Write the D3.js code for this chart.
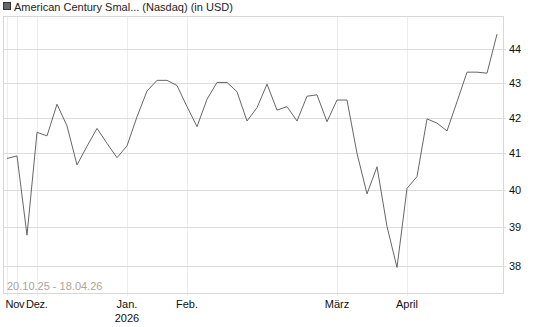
<!DOCTYPE html>
<html>
<head>
<meta charset="utf-8">
<script src="https://cdn.jsdelivr.net/npm/d3@7"></script>
<style>
  body { margin: 0; background: #fff; }
  svg { display: block; font-family: "Liberation Sans", Arial, sans-serif; }
</style>
</head>
<body>
<div class="chart"></div>
<script>
// values, one point per trading sample
var prices = [
  40.86, 40.93, 38.79, 41.59, 41.49, 42.39, 41.77, 40.68, 41.20, 41.70,
  41.28, 40.88, 41.21, 42.03, 42.77, 43.08, 43.08, 42.93, 42.32, 41.75,
  42.53, 43.02, 43.02, 42.75, 41.91, 42.29, 42.97, 42.22, 42.32, 41.91,
  42.62, 42.66, 41.89, 42.51, 42.51, 41.00, 39.89, 40.63, 39.02, 37.95,
  40.04, 40.36, 41.97, 41.85, 41.63, 42.46, 43.32, 43.32, 43.29, 44.45
];
// first sample of each month
var monthIndex = [1, 3, 12, 18, 33, 40];
var monthLabels = ["Nov", "Dez.", "Jan.", "Feb.", "März", "April"];
var yearLabels = ["", "", "2026", "", "", ""];
var yTicks = [38, 39, 40, 41, 42, 43, 44];
var title = "American Century Smal... (Nasdaq) (in USD)";
var rangeText = "20.10.25 - 18.04.26";

var W = 545, H = 327;
var margin = { top: 16, right: 42, bottom: 34, left: 3 };
var width = W - margin.left - margin.right;
var height = H - margin.top - margin.bottom;

var svg = d3.select(".chart").append("svg")
  .attr("width", W)
  .attr("height", H);

// legend
svg.append("rect")
  .attr("x", 3.5).attr("y", 2.5)
  .attr("width", 7).attr("height", 7)
  .style("fill", "#666")
  .style("stroke", "#333");
svg.append("text")
  .attr("x", 14).attr("y", 10.5)
  .text(title)
  .style("font-size", "11px")
  .style("fill", "#222");

var g = svg.append("g")
  .attr("transform", "translate(" + margin.left + "," + margin.top + ")");

var x = d3.scaleLinear().domain([-0.4, prices.length - 1 + 0.6]).range([0, width]);
var y = d3.scaleLog().domain([37.3, 45]).range([height, 0]);

// vertical grid at month starts
g.append("g")
  .selectAll("line")
  .data(monthIndex)
  .enter()
  .append("line")
  .attr("x1", function (d) { return Math.round(x(d)) + 0.5; })
  .attr("x2", function (d) { return Math.round(x(d)) + 0.5; })
  .attr("y1", 0)
  .attr("y2", height + 3)
  .style("stroke", "#ececec");

// first vertical line at the start of the series
g.append("line")
  .attr("x1", Math.round(x(0)) + 0.5).attr("x2", Math.round(x(0)) + 0.5)
  .attr("y1", 0).attr("y2", height + 3)
  .style("stroke", "#ececec");

// horizontal grid + right axis
var yAxis = d3.axisRight(y)
  .tickValues(yTicks)
  .tickFormat(d3.format("d"))
  .tickSize(-width - 3)
  .tickPadding(4);
g.append("g")
  .attr("transform", "translate(" + (width + 3) + ",0)")
  .call(yAxis)
  .call(function (s) {
    s.select(".domain").remove();
    s.selectAll(".tick line").style("stroke", "#dcdcdc");
    s.selectAll(".tick line").attr("y1", 0.5).attr("y2", 0.5);
    s.selectAll(".tick").attr("transform", function (d) {
      return "translate(0," + Math.round(y(d)) + ")";
    });
    s.selectAll(".tick text")
      .attr("x", 3)
      .style("font-size", "11px")
      .style("font-family", "'Liberation Sans', Arial, sans-serif")
      .style("fill", "#111");
  });

// plot frame
g.append("rect")
  .attr("x", 0.5).attr("y", 0.5)
  .attr("width", width).attr("height", height)
  .style("fill", "none")
  .style("stroke", "#d8d8d8");

// date range
g.append("text")
  .attr("x", 4).attr("y", height - 3)
  .text(rangeText)
  .style("font-size", "11px")
  .style("fill", "#aca49b");

// month labels (Nov / Dez. are squeezed together like the original)
var shift = [-11.5, -11, null, null, null, null];
var xl = g.append("g").attr("transform", "translate(0," + height + ")");
xl.selectAll("text.month")
  .data(monthIndex)
  .enter()
  .append("text")
  .attr("class", "month")
  .attr("x", function (d, i) { return shift[i] === null ? x(d) : x(d) + shift[i]; })
  .attr("y", 15)
  .attr("text-anchor", function (d, i) { return shift[i] === null ? "middle" : "start"; })
  .text(function (d, i) { return monthLabels[i]; })
  .style("font-size", "11px")
  .style("letter-spacing", function (d, i) { return i < 2 ? "-0.3px" : null; })
  .style("fill", "#111");
xl.selectAll("text.year")
  .data(monthIndex)
  .enter()
  .append("text")
  .attr("class", "year")
  .attr("x", function (d) { return x(d); })
  .attr("y", 29)
  .attr("text-anchor", "middle")
  .text(function (d, i) { return yearLabels[i]; })
  .style("font-size", "11px")
  .style("fill", "#111");

// price line
var line = d3.line()
  .x(function (d, i) { return x(i); })
  .y(function (d) { return y(d); });
g.append("path")
  .datum(prices)
  .attr("d", line)
  .style("fill", "none")
  .style("stroke", "#666")
  .style("stroke-width", 1);
</script>
</body>
</html>
